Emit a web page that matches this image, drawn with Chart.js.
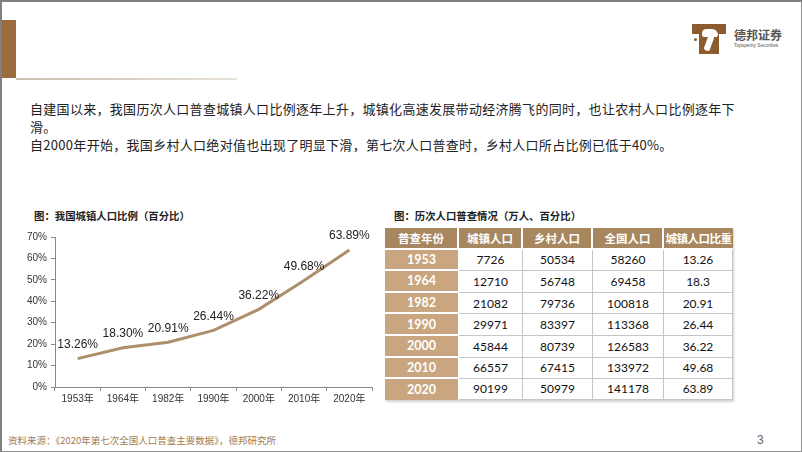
<!DOCTYPE html>
<html><head><meta charset="utf-8">
<script src="https://cdn.jsdelivr.net/npm/chart.js@4"></script>
<style>
html,body{margin:0;padding:0;background:#fff;}
#slide{position:relative;width:802px;height:452px;box-sizing:border-box;border:2px solid #808080;border-right:1px solid #909090;border-bottom:1px solid #909090;overflow:hidden;font-family:"Noto Sans CJK SC",sans-serif;}
.abs{position:absolute;}
#bar{left:0;top:18px;width:14px;height:58px;background:#9b6d3e;}
#rule{left:14px;top:76px;width:221px;height:2px;background:linear-gradient(90deg,#c9bfb3,#e7e1da);}
.para{left:28px;font-size:13px;line-height:18px;color:#222;white-space:nowrap;letter-spacing:0.3px;}
.ttl{font-size:10.4px;line-height:13px;font-weight:700;color:#222;white-space:nowrap;}
#chartbox{left:18px;top:223px;width:360px;height:185px;}
table{border-collapse:separate;border-spacing:0;font-family:Lato,"Noto Sans CJK SC",sans-serif;}
#tbl{left:383px;top:226px;box-shadow:1px 2px 2px rgba(0,0,0,0.18);}
td,th{height:19.6px;padding:0;text-align:center;font-size:12px;color:#111;}
th{background:#a8865f;color:#fff;font-family:"Noto Sans CJK SC",sans-serif;font-weight:700;font-size:11.5px;border-right:2px solid #fff;border-bottom:2px solid #fff;}
th:last-child{border-right:none;letter-spacing:-0.5px;}
td.y{background:#c9a67f;color:#fff;font-weight:700;font-size:12.5px;border-bottom:2px solid #fff;border-right:1px solid #fff;}
td.d{border-right:1px solid #c6c6c6;border-bottom:1px solid #c6c6c6;background:#fff;}
tr:last-child td.y{border-bottom:none;}
#foot{left:6px;top:432px;font-size:9.5px;line-height:12px;color:#a37a4e;white-space:nowrap;}
#pg{left:755px;top:431px;font-size:12px;line-height:14px;color:#666;font-family:"Liberation Sans",sans-serif;}
</style></head>
<body>
<div id="slide">
  <div id="bar" class="abs"></div>
  <div id="rule" class="abs"></div>
  <!-- logo -->
  <div class="abs" style="left:690px;top:22px;width:34px;height:10px;background:#8c5c2e;"></div>
  <div class="abs" style="left:697px;top:22px;width:20px;height:30px;background:#8c5c2e;"></div>
  <div class="abs" style="left:700px;top:27px;width:16px;height:8px;background:#fff;border-radius:6px 8px 3px 3px;"></div>
  <div class="abs" style="left:704px;top:33px;width:6px;height:16px;background:#fff;border-radius:2px;transform:rotate(20deg);"></div>
  <div class="abs" style="left:692px;top:36px;width:3px;height:3px;background:#8c5c2e;border-radius:2px;"></div>
  <div class="abs" style="left:732px;top:26px;font-size:12px;line-height:13px;font-weight:700;color:#555;white-space:nowrap;">德邦证券</div>
  <div class="abs" style="left:732px;top:41px;font-size:4.8px;line-height:6px;color:#555;white-space:nowrap;font-family:'Liberation Sans',sans-serif;">Topsperity Securities</div>

  <div class="abs para" style="top:98px;">自建国以来，我国历次人口普查城镇人口比例逐年上升，城镇化高速发展带动经济腾飞的同时，也让农村人口比例逐年下<br>滑。<br>自2000年开始，我国乡村人口绝对值也出现了明显下滑，第七次人口普查时，乡村人口所占比例已低于40%。</div>

  <div class="abs ttl" style="left:32px;top:207px;">图：我国城镇人口比例（百分比）</div>
  <div class="abs ttl" style="left:392px;top:207px;">图：历次人口普查情况（万人、百分比）</div>

  <div id="chartbox" class="abs"><canvas id="c"></canvas></div>

  <table id="tbl" class="abs"><tbody id="tb"></tbody></table>

  <div id="foot" class="abs">资料来源：《2020年第七次全国人口普查主要数据》，德邦研究所</div>
  <div id="pg" class="abs">3</div>
</div>
<script>
const years = ['1953','1964','1982','1990','2000','2010','2020'];
const xLabels = ['1953年','1964年','1982年','1990年','2000年','2010年','2020年'];
const urbanRatio = [13.26, 18.30, 20.91, 26.44, 36.22, 49.68, 63.89];
const urbanPop = [7726, 12710, 21082, 29971, 45844, 66557, 90199];
const ruralPop = [50534, 56748, 79736, 83397, 80739, 67415, 50979];
const totalPop = [58260, 69458, 100818, 113368, 126583, 133972, 141178];
const ratioText = ['13.26','18.3','20.91','26.44','36.22','49.68','63.89'];
const headers = ['普查年份','城镇人口','乡村人口','全国人口','城镇人口比重'];
const colW = [72, 62, 68, 69, 69];

// table
const tb = document.getElementById('tb');
let hr = '<tr>' + headers.map((h,i)=>`<th style="width:${colW[i]}px">${h}</th>`).join('') + '</tr>';
let rows = years.map((y,i)=>`<tr><td class="y">${y}</td><td class="d">${urbanPop[i]}</td><td class="d">${ruralPop[i]}</td><td class="d">${totalPop[i]}</td><td class="d">${ratioText[i]}</td></tr>`).join('');
tb.innerHTML = hr + rows;

const labelPlugin = {
  id:'vlabels',
  afterDatasetsDraw(chart){
    const ctx = chart.ctx;
    const meta = chart.getDatasetMeta(0);
    ctx.save();
    ctx.font = '12px "Liberation Sans", Arial, sans-serif';
    ctx.fillStyle = '#222';
    ctx.textAlign = 'center';
    ctx.textBaseline = 'middle';
    meta.data.forEach((p,i)=>{
      ctx.fillText(urbanRatio[i].toFixed(2)+'%', p.x, p.y - 14);
    });
    ctx.restore();
  }
};

new Chart(document.getElementById('c'), {
  type:'line',
  data:{labels:xLabels, datasets:[{data:urbanRatio, borderColor:'#ae8f6b', borderWidth:3, pointRadius:0, tension:0, fill:false}]},
  options:{
    responsive:true, maintainAspectRatio:false, animation:false,
    layout:{padding:{top:12, right:8, left:0, bottom:0}},
    plugins:{legend:{display:false}, tooltip:{enabled:false}},
    scales:{
      x:{
        offset:true,
        grid:{display:true, drawOnChartArea:false, drawTicks:true, tickLength:4, color:'#888', offset:true},
        border:{display:true, color:'#888', width:1},
        ticks:{font:{size:10, family:'"Liberation Sans", "Noto Sans CJK SC", sans-serif'}, color:'#333', padding:2, maxRotation:0},
        afterFit(s){ s.height = 23; }
      },
      y:{
        min:0, max:70,
        grid:{display:true, drawOnChartArea:false, drawTicks:true, tickLength:4, color:'#888'},
        border:{display:true, color:'#888', width:1},
        ticks:{stepSize:10, font:{size:10, family:'"Liberation Sans", sans-serif'}, color:'#333', padding:4, callback:v=>v+'%'},
        afterFit(s){ s.width = 35; }
      }
    }
  },
  plugins:[labelPlugin]
});
</script>
</body></html>
